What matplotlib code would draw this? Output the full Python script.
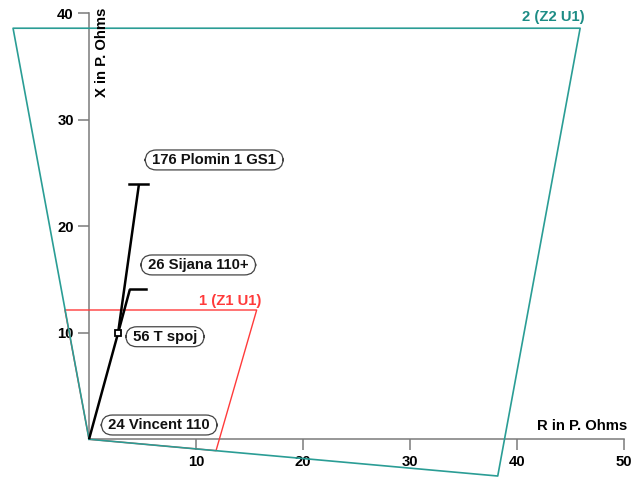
import matplotlib
matplotlib.use("Agg")
import matplotlib.pyplot as plt

# Zone polygons (R, X in primary ohms)
zone2_R = [0, -7.1, 45.9, 38.2, 0]
zone2_X = [0, 38.6, 38.6, -3.45, 0]
zone1_R = [0, -2.25, 15.67, 11.87, 0]
zone1_X = [0, 12.14, 12.14, -1.07, 0]

# Line impedance path points
node_names = ["24 Vincent 110", "56 T spoj", "176 Plomin 1 GS1", "26 Sijana 110+"]
node_R = [0.0, 2.71, 4.67, 3.82]
node_X = [0.0, 9.95, 23.97, 14.08]

# Label positions (box centres)
label_R = [6.56, 7.10, 11.70, 10.21]
label_X = [1.34, 9.63, 26.23, 16.37]

# end caps
cap_plomin_R = [3.76, 5.54]
cap_sijana_R = [3.82, 5.33]

xticks = [10, 20, 30, 40, 50]
yticks = [10, 20, 30, 40]

teal = "#2a9d95"
teal_txt = "#1d8c85"
red = "#ff3a3a"
spine_c = "#7a7a7a"
font = ["Liberation Sans", "DejaVu Sans"]
fs = 10.7

fig = plt.figure(figsize=(6.44, 4.79), dpi=100)
ax = fig.add_axes([0, 0, 1, 1])
ax.set_xlim(-8.32, 51.87)
ax.set_ylim(-3.73, 41.25)

ax.plot(zone1_R, zone1_X, color=red, lw=1.0, zorder=2)
ax.plot(zone2_R, zone2_X, color=teal, lw=1.2, zorder=3)

# path: origin -> T spoj -> Plomin ; T spoj -> Sijana
ax.plot([node_R[0], node_R[1], node_R[2]], [node_X[0], node_X[1], node_X[2]],
        color="black", lw=1.8, zorder=4, solid_capstyle="butt")
ax.plot([node_R[1], node_R[3]], [node_X[1], node_X[3]],
        color="black", lw=1.8, zorder=4, solid_capstyle="butt")
ax.plot(cap_plomin_R, [node_X[2]] * 2, color="black", lw=1.8, zorder=4)
ax.plot(cap_sijana_R, [node_X[3]] * 2, color="black", lw=1.8, zorder=4)
ax.plot([node_R[1]], [node_X[1]], marker="s", ms=5, mfc="white", mec="black",
        mew=1.3, zorder=5)

for name, lx, ly in zip(node_names, label_R, label_X):
    ax.text(lx, ly, " " + name + " ", ha="center", va="center", fontsize=fs,
            fontweight="bold", family=font, color="#111111", zorder=6,
            bbox=dict(boxstyle="round,pad=0.2,rounding_size=0.75", fc="white",
                      ec="#444444", lw=0.9))

ax.text(46.36, 39.7, "2 (Z2 U1)", ha="right", va="center", fontsize=fs,
        fontweight="bold", family=font, color=teal_txt)
ax.text(16.14, 13.0, "1 (Z1 U1)", ha="right", va="center", fontsize=fs,
        fontweight="bold", family=font, color=red)

# axes through origin
for s in ["top", "right"]:
    ax.spines[s].set_visible(False)
ax.spines["left"].set_position(("data", 0))
ax.spines["bottom"].set_position(("data", 0))
ax.spines["left"].set_bounds(0, 40)
ax.spines["bottom"].set_bounds(0, 50)
for s in ["left", "bottom"]:
    ax.spines[s].set_color(spine_c)
    ax.spines[s].set_linewidth(1.1)
    ax.spines[s].set_zorder(1)
ax.set_xticks(xticks)
ax.set_yticks(yticks)
ax.tick_params(axis="both", direction="out", length=8, width=1.1, color=spine_c,
               labelsize=fs, pad=3)
for lab in ax.get_xticklabels() + ax.get_yticklabels():
    lab.set_fontweight("bold")
    lab.set_family(font)

ax.text(1.2, 40.5, "X in P. Ohms", rotation=90, ha="center", va="top",
        fontsize=fs, fontweight="bold", family=font)
ax.text(50.3, 1.25, "R in P. Ohms", ha="right", va="center",
        fontsize=fs, fontweight="bold", family=font)

fig.savefig("out.png", dpi=100)
